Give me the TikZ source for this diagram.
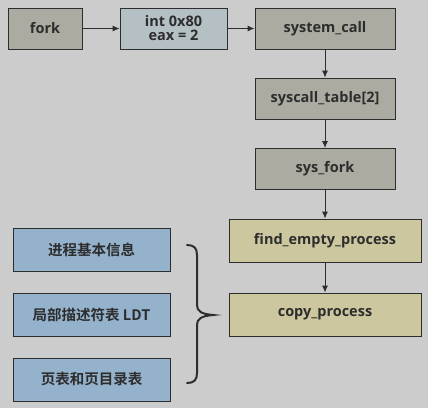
\documentclass[tikz,border=0pt]{standalone}
\usepackage{fontspec}
\setmainfont{Open Sans}
\newfontfamily\cjk{Noto Sans CJK SC}[BoldFont={Noto Sans CJK SC Bold}]
\usetikzlibrary{arrows.meta}
\definecolor{bgcol}{RGB}{204,204,204}
\definecolor{greybox}{RGB}{172,171,162}
\definecolor{intbox}{RGB}{181,192,196}
\definecolor{sandbox}{RGB}{204,199,158}
\definecolor{bluebox}{RGB}{148,178,204}
\definecolor{linecol}{RGB}{45,45,45}
\tikzset{
  box/.style={draw=linecol, line width=0.9pt, minimum height=41pt, inner sep=0pt,
    font=\fontsize{14.5}{15}\selectfont\bfseries, text=linecol, align=center},
  flow/.style={draw=linecol, line width=0.9pt, -{Latex[length=7pt,width=6pt]}}
}
\begin{document}
\begin{tikzpicture}[x=1pt,y=-1pt]
\fill[bgcol] (0,0) rectangle (428,408);
\useasboundingbox (0,0) rectangle (428,408);

\node[box, fill=greybox, minimum width=74pt] (fork) at (45,28.5) {fork};
\node[box, fill=intbox, minimum width=107pt] (int) at (173.5,28.5) {int 0x80\\[-1pt]eax = 2};
\node[box, fill=greybox, minimum width=140pt] (syscall) at (325,28.5) {system\_call};
\node[box, fill=greybox, minimum width=140pt] (table) at (325,98.5) {syscall\_table[2]};
\node[box, fill=greybox, minimum width=140pt] (sysfork) at (325,169) {sys\_fork};
\node[box, fill=sandbox, minimum width=192pt, minimum height=43pt] (find) at (325,240.5) {find\_empty\_process};
\node[box, fill=sandbox, minimum width=192pt, minimum height=43pt] (copy) at (325,314.5) {copy\_process};

\node[box, fill=bluebox, minimum width=157pt, minimum height=43pt] (info) at (91.5,249.5) {\cjk 进程基本信息};
\node[box, fill=bluebox, minimum width=157pt, minimum height=43pt] (ldt) at (91.5,314.5) {\cjk 局部描述符表 LDT};
\node[box, fill=bluebox, minimum width=157pt, minimum height=43pt] (page) at (91.5,379.5) {\cjk 页表和页目录表};

\draw[flow] (fork) -- (int);
\draw[flow] (int) -- (syscall);
\draw[flow] (syscall) -- (table);
\draw[flow] (table) -- (sysfork);
\draw[flow] (sysfork) -- (find);
\draw[flow] (find) -- (copy);

% brace
\draw[linecol, line width=2pt, line cap=round]
  (187,245) .. controls (194,245) and (197,248) .. (197,255) -- (197,305)
  .. controls (197,311) and (201,314) .. (213,315)
  .. controls (201,316) and (197,319) .. (197,325) -- (197,373)
  .. controls (197,380) and (194,383) .. (187,383);
\end{tikzpicture}
\end{document}
